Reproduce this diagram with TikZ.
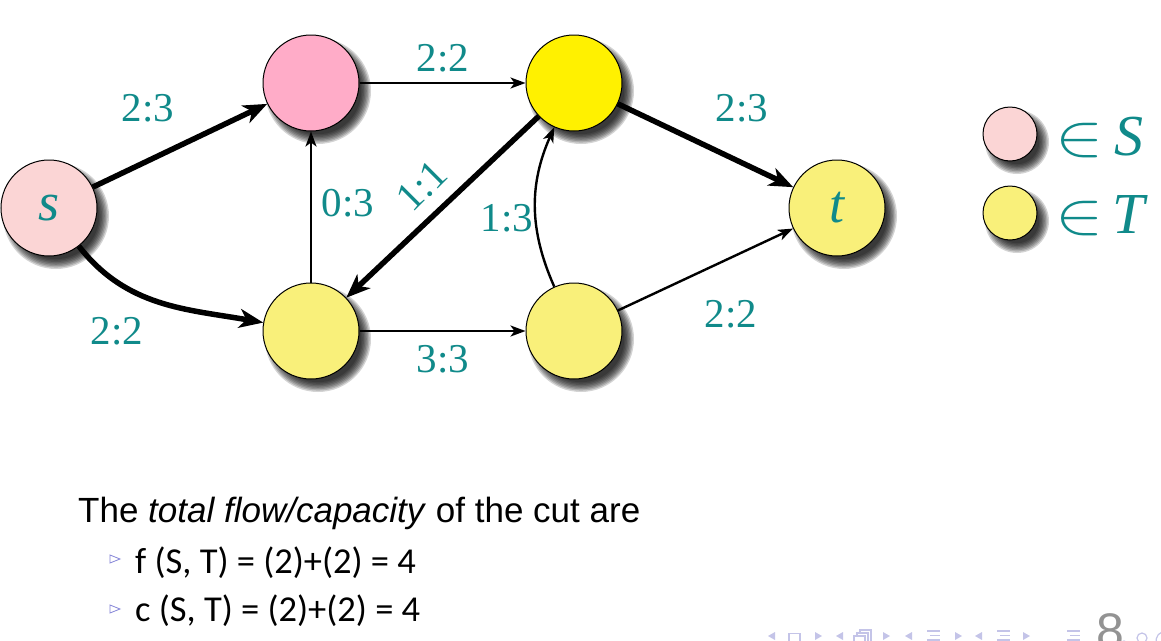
\documentclass[tikz,border=0pt]{standalone}
\usepackage{fontspec}
\setmainfont{Liberation Serif}
\newfontfamily\arialf{Liberation Sans}
\newfontfamily\calf{Carlito}
\usetikzlibrary{arrows.meta}
\definecolor{tealc}{RGB}{16,138,138}
\definecolor{spink}{RGB}{251,213,213}
\definecolor{ppink}{RGB}{255,172,200}
\definecolor{byel}{RGB}{255,241,0}
\definecolor{pyel}{RGB}{249,240,122}
\definecolor{navc}{RGB}{196,196,232}
\definecolor{bulc}{RGB}{130,130,215}
\newcommand\blurshadow[3]{%
  \foreach \k in {0,...,7}{\fill[black,opacity=0.17] (#1+7,#2-8) circle[radius={(#3+5-1.4*\k)*1pt}];}}
\newcommand\bigin{\scalebox{2.9}[2.4]{$\in$}}
\begin{document}
\begin{tikzpicture}[x=1pt,y=1pt,
  vert/.style={circle,draw=black,line width=1pt,minimum size=96pt,inner sep=0pt,
    font=\fontsize{54}{54}\selectfont\itshape,text=tealc},
  legv/.style={circle,draw=black,line width=1pt,minimum size=54pt,inner sep=0pt},
  lbl/.style={font=\fontsize{41}{41}\selectfont,text=tealc,inner sep=0pt},
  legt/.style={font=\fontsize{58}{58}\selectfont,text=tealc,inner sep=0pt,anchor=base west},
  thickedge/.style={line width=5.5pt,-{Stealth[length=24pt,width=19pt,inset=7pt]}},
  thinedge/.style={line width=2.4pt,-{Stealth[length=15pt,width=11pt,inset=4pt]}},
  navs/.style={fill=navc,draw=none},
]
\useasboundingbox (0,0) rectangle (1161,-640);
\fill[white] (0,0) rectangle (1161,-640);
% shadows
\blurshadow{49}{-208}{48}
\blurshadow{311}{-83}{48}
\blurshadow{311}{-331}{48}
\blurshadow{574}{-83}{48}
\blurshadow{574}{-331}{48}
\blurshadow{837}{-208}{48}
\blurshadow{1010}{-134}{27}
\blurshadow{1010}{-213}{27}
% vertices
\node[vert,fill=spink] (s) at (49,-208) {s};
\node[vert,fill=ppink] (a) at (311,-83) {};
\node[vert,fill=pyel] (b) at (311,-331) {};
\node[vert,fill=byel] (c) at (574,-83) {};
\node[vert,fill=pyel] (d) at (574,-331) {};
\node[vert,fill=pyel] (t) at (837,-208) {t};
% edges
\draw[thickedge] (s) -- (a);
\draw[thickedge] (s) to[out=-52,in=170] (b);
\draw[thinedge] (a) -- (c);
\draw[thinedge] (b) -- (a);
\draw[thickedge] (c) -- (b);
\draw[thinedge] (d) to[bend left=24] (c);
\draw[thinedge] (b) -- (d);
\draw[thickedge] (c) -- (t);
\draw[thinedge] (d) -- (t);
% labels
\node[lbl] (l1) at (148,-108) {2:3};
\node[lbl] (l2) at (117,-331) {2:2};
\node[lbl] (l3) at (348,-203) {0:3};
\node[lbl] (l4) at (443,-58) {2:2};
\node[lbl,rotate=45] (l5) at (422,-186) {1:1};
\node[lbl] (l6) at (507,-218) {1:3};
\node[lbl] (l7) at (443,-359) {3:3};
\node[lbl] (l8) at (742,-108) {2:3};
\node[lbl] (l9) at (731,-314) {2:2};
% legend
\node[legv,fill=spink] (ls) at (1010,-134) {};
\node[legv,fill=pyel] (lt) at (1010,-213) {};
\node[legt] (lst) at (1055,-155) {\bigin\hspace{11pt}\textit{S}};
\node[legt] (ltt) at (1055,-233) {\bigin\hspace{9pt}\textit{T}};
% text
\node[anchor=base west,inner sep=0pt,font=\arialf\fontsize{35}{35}\selectfont] (txt) at (78,-522)
  {The \textit{total flow/capacity} of the cut are};
\node[anchor=base west,inner sep=0pt,font=\calf\fontsize{36.5}{36.5}\selectfont] (f1) at (135,-573)
  {f (S, T) = (2)+(2) = 4};
\node[anchor=base west,inner sep=0pt,font=\calf\fontsize{36.5}{36.5}\selectfont] (c1) at (135,-621)
  {c (S, T) = (2)+(2) = 4};
\draw[bulc,line width=0.8pt,fill=white] (110,-555) -- (120,-559) -- (110,-563) -- cycle;
\draw[bulc,line width=0.8pt,fill=white] (110,-605) -- (120,-609) -- (110,-613) -- cycle;
% navigation symbols
\foreach \x in {775,843,912,982}{\fill[navs] (\x,-632) -- (\x-7,-636) -- (\x,-640) -- cycle;}
\foreach \x in {815,883,955,1023}{\fill[navs] (\x,-632) -- (\x+7,-636) -- (\x,-640) -- cycle;}
\draw[navc,line width=1.2pt] (789,-633.5) rectangle (800,-642);
\draw[navc,line width=1.2pt,fill=white] (860,-630) rectangle (871,-642);
\draw[navc,line width=1.2pt,fill=white] (857,-633) rectangle (868,-642);
\draw[navc,line width=1.2pt,fill=white] (854,-636) rectangle (865,-642);
\foreach \x in {927,997,1067}{
  \draw[navc,line width=1.5pt] (\x,-631) -- (\x+13,-631);
  \draw[navc,line width=1.5pt] (\x+3,-635.5) -- (\x+13,-635.5);
  \draw[navc,line width=1.5pt] (\x,-640) -- (\x+13,-640);}
\draw[navc,line width=1.2pt] (1120,-645) arc[start angle=180,end angle=0,radius=4pt];
\draw[navc,line width=1.2pt] (1142,-638) circle[radius=5pt];
\draw[navc,line width=1.2pt] (1162,-632) arc[start angle=110,end angle=220,radius=9pt];
\node[anchor=base,inner sep=0pt,font=\arialf\fontsize{50}{50}\selectfont,text=gray!85] (pg) at (1110,-648) {8};
\end{tikzpicture}
\end{document}
